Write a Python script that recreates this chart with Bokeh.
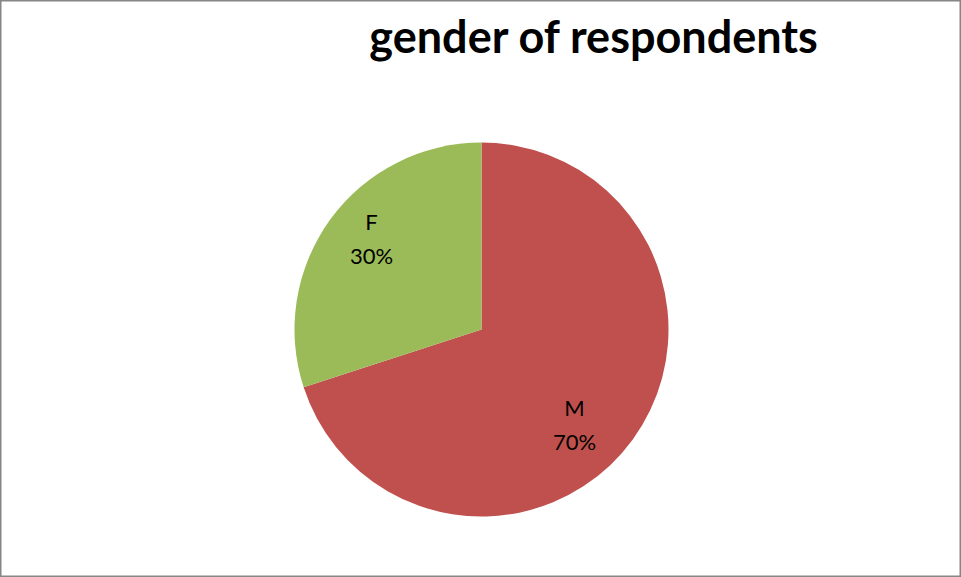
import math
from bokeh.plotting import figure
from bokeh.models import ColumnDataSource, Range1d
from bokeh.core.properties import value
from bokeh.embed import file_html
from bokeh.resources import INLINE

# Data
categories = ["M", "F"]
percents = [70, 30]
colors = ["#C0504D", "#9BBB59"]
title_text = "gender of respondents"

W, H = 961, 577
p = figure(width=W, height=H, x_range=Range1d(0, W), y_range=Range1d(0, H),
           output_backend="svg", toolbar_location=None, min_border=0)
p.axis.visible = False
p.grid.visible = False
p.outline_line_color = "#868686"
p.outline_line_width = 2
p.background_fill_color = "white"
p.border_fill_color = "white"

cx, cy, r = 481, H - 329, 187

# angles: start at 12 o'clock, clockwise
total = sum(percents)
starts, ends = [], []
a = math.pi / 2
for v in percents:
    starts.append(a)
    a -= 2 * math.pi * v / total
    ends.append(a)

src = ColumnDataSource(dict(cat=categories, pct=percents, color=colors,
                            start=starts, end=ends))
p.wedge(x=cx, y=cy, radius=r, start_angle="start", end_angle="end",
        direction="clock", fill_color="color", line_color=None, source=src)

# label placement (layout)
lab_x = [574, 371]
lab_y = [H - 424, H - 238]
pct_labels = [f"{v}%" for v in percents]
p.text(x=lab_x, y=[y + 17 for y in lab_y], text=categories, text_font=value("Lato"),
       text_font_size="22px", text_align="center", text_baseline="middle",
       text_color="black")
p.text(x=lab_x, y=[y - 17 for y in lab_y], text=pct_labels, text_font=value("Lato"),
       text_font_size="22px", text_align="center", text_baseline="middle",
       text_color="black")

p.text(x=[594], y=[H - 35], text=[title_text], text_font=value("Lato"),
       text_font_style="bold", text_font_size="45px", text_align="center",
       text_baseline="middle", text_color="black")

open("out.html", "w").write(file_html(p, INLINE))
